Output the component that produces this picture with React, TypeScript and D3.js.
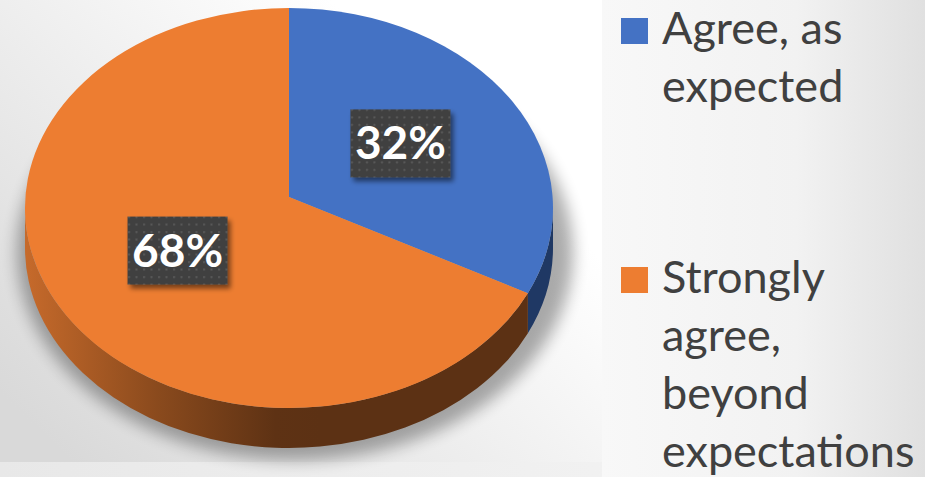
import React, { useEffect, useRef } from 'react';
import * as d3 from 'd3';

// Survey answers (share of respondents)
const categories = ['Agree, as expected', 'Strongly agree, beyond expectations'];
const values = [32, 68];
const valueLabels = ['32%', '68%'];
// legend text broken into lines the way the slide wraps it
const legendLines = [['Agree, as', 'expected'], ['Strongly', 'agree,', 'beyond', 'expectations']];

const TOP_COLORS = ['#4472c4', '#ed7d31'];
const SIDE_COLORS = ['#1f3864', 'url(#orangeSide)'];

const WIDTH = 925;
const HEIGHT = 477;

export default function App() {
  const svgRef = useRef<SVGSVGElement>(null);

  useEffect(() => {
    if (!svgRef.current) return;
    document.body.style.margin = '0';

    const svg = d3.select(svgRef.current);
    svg.selectAll('*').remove();

    const defs = svg.append('defs');

    // plot area: grey at the lower left, white towards the upper right
    const plotBg = defs.append('linearGradient').attr('id', 'plotBg')
      .attr('x1', 0).attr('y1', 0.85).attr('x2', 0.75).attr('y2', 0.25);
    plotBg.append('stop').attr('offset', 0).attr('stop-color', '#d9d9d9');
    plotBg.append('stop').attr('offset', 1).attr('stop-color', '#ffffff');

    const legendBg = defs.append('linearGradient').attr('id', 'legendBg')
      .attr('x1', 0).attr('y1', 0).attr('x2', 1).attr('y2', 0);
    legendBg.append('stop').attr('offset', 0).attr('stop-color', '#f8f8f8');
    legendBg.append('stop').attr('offset', 0.6).attr('stop-color', '#f2f2f2');
    legendBg.append('stop').attr('offset', 1).attr('stop-color', '#e0e0e0');

    const bottomBg = defs.append('linearGradient').attr('id', 'bottomBg')
      .attr('x1', 0).attr('y1', 0).attr('x2', 1).attr('y2', 0);
    bottomBg.append('stop').attr('offset', 0).attr('stop-color', '#e8e8e8');
    bottomBg.append('stop').attr('offset', 1).attr('stop-color', '#f6f6f6');

    const orangeSide = defs.append('linearGradient').attr('id', 'orangeSide')
      .attr('gradientUnits', 'userSpaceOnUse')
      .attr('x1', 25).attr('y1', 0).attr('x2', 320).attr('y2', 0);
    orangeSide.append('stop').attr('offset', 0).attr('stop-color', '#c66a2b');
    orangeSide.append('stop').attr('offset', 0.45).attr('stop-color', '#8a4a1d');
    orangeSide.append('stop').attr('offset', 0.85).attr('stop-color', '#5e3214');
    orangeSide.append('stop').attr('offset', 1).attr('stop-color', '#5c3114');

    defs.append('filter').attr('id', 'pieShadow')
      .attr('x', '-20%').attr('y', '-20%').attr('width', '140%').attr('height', '140%')
      .append('feGaussianBlur').attr('stdDeviation', 8);

    const boxShadow = defs.append('filter').attr('id', 'boxShadow')
      .attr('x', '-20%').attr('y', '-20%').attr('width', '150%').attr('height', '150%');
    boxShadow.append('feGaussianBlur').attr('in', 'SourceAlpha').attr('stdDeviation', 2.5);
    boxShadow.append('feOffset').attr('dx', 3).attr('dy', 4).attr('result', 'off');
    boxShadow.append('feComponentTransfer').append('feFuncA').attr('type', 'linear').attr('slope', 0.5);
    const merge = boxShadow.append('feMerge');
    merge.append('feMergeNode');
    merge.append('feMergeNode').attr('in', 'SourceGraphic');

    const dots = defs.append('pattern').attr('id', 'dots')
      .attr('patternUnits', 'userSpaceOnUse').attr('width', 7.5).attr('height', 7.5);
    dots.append('rect').attr('width', 7.5).attr('height', 7.5).attr('fill', '#3f3f3f');
    dots.append('rect').attr('x', 3).attr('y', 3).attr('width', 2).attr('height', 2).attr('fill', '#5b5b5b');

    // backgrounds
    svg.append('rect').attr('width', WIDTH).attr('height', HEIGHT).attr('fill', 'url(#bottomBg)');
    svg.append('rect').attr('x', 0).attr('y', 0).attr('width', 602).attr('height', 462).attr('fill', 'url(#plotBg)');
    svg.append('rect').attr('x', 602).attr('y', 0).attr('width', WIDTH - 602).attr('height', HEIGHT).attr('fill', 'url(#legendBg)');

    // pie geometry (tilted ellipse with a thickness)
    const cx = 289, cy = 208, rx = 264, ry = 200, depth = 40;
    const vertex = { x: 289, y: 197 };
    const pt = (a: number, dy = 0) => [cx + rx * Math.sin(a), cy - ry * Math.cos(a) + dy];

    const pie = d3.pie<number>().sort(null).value(d => d);
    const arcs = pie(values);

    // soft shadow below and right of the disc
    svg.append('ellipse')
      .attr('cx', cx + 6).attr('cy', cy + depth + 4)
      .attr('rx', rx + 14).attr('ry', ry + 8)
      .attr('fill', '#000').attr('opacity', 0.32)
      .attr('filter', 'url(#pieShadow)');

    // visible rim (front half only)
    arcs.forEach((a, i) => {
      const s = Math.max(a.startAngle, Math.PI / 2);
      const e = Math.min(a.endAngle, (3 * Math.PI) / 2);
      if (s >= e) return;
      const large = e - s > Math.PI ? 1 : 0;
      const [x0, y0] = pt(s);
      const [x1, y1] = pt(e);
      const p = `M${x0},${y0} A${rx},${ry} 0 ${large} 1 ${x1},${y1} L${x1},${y1 + depth}`
        + ` A${rx},${ry} 0 ${large} 0 ${x0},${y0 + depth} Z`;
      svg.append('path').attr('d', p).attr('fill', SIDE_COLORS[i]);
    });

    // top faces
    arcs.forEach((a, i) => {
      const large = a.endAngle - a.startAngle > Math.PI ? 1 : 0;
      const [x0, y0] = pt(a.startAngle);
      const [x1, y1] = pt(a.endAngle);
      const p = `M${vertex.x},${vertex.y} L${x0},${y0} A${rx},${ry} 0 ${large} 1 ${x1},${y1} Z`;
      svg.append('path').attr('d', p).attr('fill', TOP_COLORS[i]);
    });

    // data labels in dark dotted boxes
    const boxW = 100, boxH = 68;
    arcs.forEach((a, i) => {
      const mid = (a.startAngle + a.endAngle) / 2;
      const lx = vertex.x + 0.5 * rx * Math.sin(mid);
      const ly = vertex.y - 0.5 * ry * Math.cos(mid);
      const g = svg.append('g').attr('transform', `translate(${lx},${ly})`);
      g.append('rect')
        .attr('x', -boxW / 2).attr('y', -boxH / 2)
        .attr('width', boxW).attr('height', boxH)
        .attr('fill', 'url(#dots)')
        .attr('filter', 'url(#boxShadow)');
      g.append('text')
        .attr('text-anchor', 'middle')
        .attr('y', 16)
        .style('font-family', 'Lato, "Open Sans", sans-serif')
        .style('font-weight', '700')
        .style('font-size', '46px')
        .style('fill', '#ffffff')
        .text(valueLabels[i]);
    });

    // legend
    const legend = svg.append('g').attr('transform', 'translate(621,0)');
    categories.forEach((c, i) => {
      const top = 44 + i * 249;
      const item = legend.append('g').attr('class', 'legend-item');
      item.append('title').text(c);
      item.append('rect')
        .attr('x', 0).attr('y', top - 26)
        .attr('width', 27).attr('height', 26)
        .attr('fill', TOP_COLORS[i]);
      legendLines[i].forEach((line, j) => {
        item.append('text')
          .attr('x', 41)
          .attr('y', top + j * 58)
          .style('font-family', 'Lato, "Open Sans", sans-serif')
          .style('font-size', '45px')
          .style('fill', '#404040')
          .text(line);
      });
    });
  }, []);

  return (
    <div style={{ position: 'absolute', left: 0, top: 0, width: WIDTH, height: HEIGHT }}>
      <svg ref={svgRef} width={WIDTH} height={HEIGHT} style={{ display: 'block' }} />
    </div>
  );
}
